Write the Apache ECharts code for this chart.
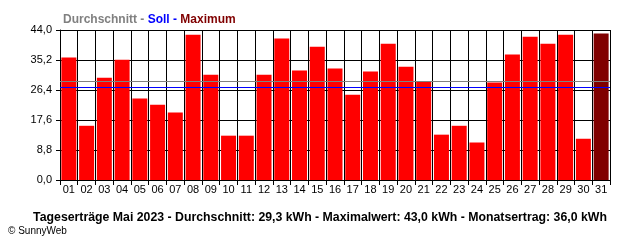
<!DOCTYPE html>
<html>
<head>
<meta charset="utf-8">
<script src="https://cdn.jsdelivr.net/npm/echarts@6/dist/echarts.min.js"></script>
<style>
  html, body { margin: 0; padding: 0; background: #fff; }
  #main { width: 640px; height: 240px; }
</style>
</head>
<body>
<div id="main"></div>
<script>
// Tagesertraege Mai 2023 (kWh)
const days = ['01','02','03','04','05','06','07','08','09','10','11','12','13','14','15','16',
              '17','18','19','20','21','22','23','24','25','26','27','28','29','30','31'];
const yields = [35.9, 15.9, 30.0, 35.3, 23.9, 22.1, 19.8, 42.6, 30.9, 13.0, 13.0, 30.9, 41.5, 32.1, 39.1, 32.7,
                25.0, 31.8, 40.0, 33.2, 29.0, 13.3, 15.9, 11.0, 28.6, 36.8, 42.0, 40.0, 42.6, 12.1, 43.0];
const average = 29.0;   // gray line
const target = 27.3;    // blue line (Soll)

const chartDom = document.getElementById('main');
const myChart = echarts.init(chartDom, null, { renderer: 'canvas' });

const maxVal = Math.max(...yields);
const font = 'Liberation Sans, Arial, sans-serif';

const option = {
  animation: false,
  backgroundColor: '#fff',
  title: [
    {
      left: 58,
      top: 9,
      text: '{a|Durchschnitt - }{b|Soll - }{c|Maximum}',
      textStyle: {
        rich: {
          a: { color: '#808080', fontWeight: 'bold', fontSize: 12, fontFamily: font },
          b: { color: '#0000ff', fontWeight: 'bold', fontSize: 12, fontFamily: font },
          c: { color: '#800000', fontWeight: 'bold', fontSize: 12, fontFamily: font }
        }
      }
    },
    {
      left: 'center',
      top: 207,
      text: 'Tageserträge Mai 2023 - Durchschnitt: 29,3 kWh - Maximalwert: 43,0 kWh - Monatsertrag: 36,0 kWh',
      textStyle: { color: '#000', fontWeight: 'bold', fontSize: 12.3, fontFamily: font }
    },
    {
      left: 3,
      top: 221,
      text: '© SunnyWeb',
      textStyle: { color: '#000', fontWeight: 'normal', fontSize: 10, fontFamily: font }
    }
  ],
  grid: { left: 60, right: 30, top: 30, bottom: 60 },
  xAxis: {
    type: 'category',
    data: days,
    axisLine: { show: true, lineStyle: { color: '#000', width: 1 } },
    axisTick: { show: true, length: 5, interval: 0, lineStyle: { color: '#000' } },
    axisLabel: { interval: 0, color: '#000', fontSize: 11, fontFamily: font, margin: 4 },
    splitLine: { show: true, interval: 0, lineStyle: { color: '#000', width: 1 } }
  },
  yAxis: {
    type: 'value',
    min: 0,
    max: 44,
    interval: 8.8,
    axisLine: { show: true, lineStyle: { color: '#000', width: 1 } },
    axisTick: { show: true, length: 4, lineStyle: { color: '#000' } },
    axisLabel: {
      color: '#000', fontSize: 11, fontFamily: font, margin: 8,
      formatter: v => v.toFixed(1).replace('.', ',')
    },
    splitLine: { show: true, lineStyle: { color: '#000', width: 1 } }
  },
  series: [
    {
      type: 'bar',
      barWidth: 15,
      data: yields.map(v => ({
        value: v,
        itemStyle: { color: v === maxVal ? '#800000' : '#ff0000' }
      })),
      markLine: {
        silent: true,
        symbol: 'none',
        label: { show: false },
        data: [
          { yAxis: average, lineStyle: { color: '#808080', width: 1, type: 'solid' } },
          { yAxis: target, lineStyle: { color: '#0000ff', width: 1, type: 'solid' } }
        ]
      }
    }
  ]
};

myChart.setOption(option);
</script>
</body>
</html>
